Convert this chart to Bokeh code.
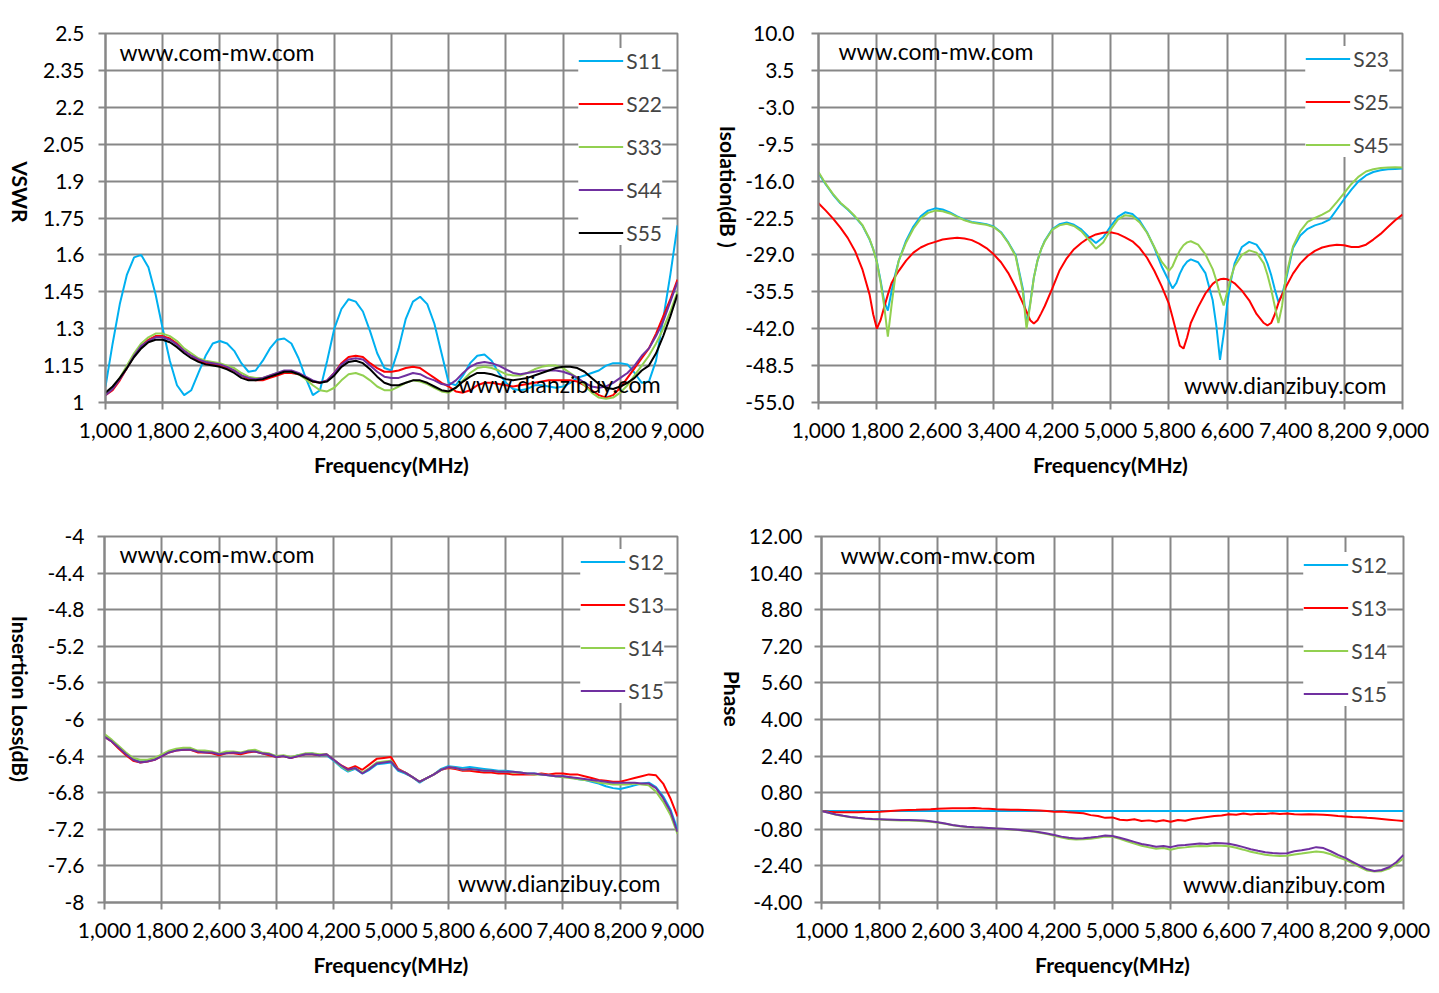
import math

from bokeh.core.properties import value
from bokeh.embed import file_html
from bokeh.layouts import column, row
from bokeh.models import FixedTicker, Label, Range1d
from bokeh.plotting import figure
from bokeh.resources import INLINE

# frequency grid (MHz) used by the VSWR, insertion loss and phase plots
FREQ = list(range(1000, 9001, 100))

X_TICKS = [1000, 1800, 2600, 3400, 4200, 5000, 5800, 6600, 7400, 8200, 9000]
X_LABELS = ["1,000", "1,800", "2,600", "3,400", "4,200", "5,000",
            "5,800", "6,600", "7,400", "8,200", "9,000"]

CYAN = "#00B0F0"
RED = "#FF0000"
GREEN = "#92D050"
PURPLE = "#7030A0"
BLACK = "#000000"
GRID = "#878787"

# ---- VSWR ----
VSWR_TICKS = [1, 1.15, 1.3, 1.45, 1.6, 1.75, 1.9, 2.05, 2.2, 2.35, 2.5]
VSWR_LABELS = ["1", "1.15", "1.3", "1.45", "1.6", "1.75", "1.9", "2.05", "2.2", "2.35", "2.5"]

S11 = [1.065, 1.24, 1.40, 1.52, 1.59, 1.60, 1.55, 1.44, 1.30, 1.17,
       1.07, 1.03, 1.05, 1.12, 1.19, 1.24, 1.25, 1.24, 1.21, 1.16,
       1.125, 1.13, 1.17, 1.22, 1.255, 1.26, 1.24, 1.18, 1.10, 1.03,
       1.05, 1.17, 1.30, 1.38, 1.42, 1.41, 1.37, 1.29, 1.20, 1.14,
       1.13, 1.22, 1.34, 1.41, 1.43, 1.40, 1.32, 1.20, 1.08, 1.07,
       1.11, 1.16, 1.19, 1.195, 1.17, 1.12, 1.08, 1.055, 1.05, 1.055,
       1.07, 1.07, 1.065, 1.06, 1.065, 1.08, 1.10, 1.11, 1.12, 1.13,
       1.15, 1.16, 1.16, 1.155, 1.12, 1.08, 1.085, 1.17, 1.34, 1.52,
       1.72]
S22 = [1.03, 1.05, 1.09, 1.14, 1.19, 1.23, 1.255, 1.27, 1.27, 1.26,
       1.24, 1.21, 1.19, 1.17, 1.16, 1.155, 1.15, 1.14, 1.13, 1.11,
       1.095, 1.09, 1.09, 1.10, 1.11, 1.12, 1.12, 1.115, 1.10, 1.085,
       1.08, 1.09, 1.12, 1.16, 1.185, 1.19, 1.185, 1.16, 1.14, 1.125,
       1.125, 1.13, 1.14, 1.145, 1.14, 1.12, 1.10, 1.08, 1.065, 1.045,
       1.04, 1.05, 1.07, 1.08, 1.08, 1.075, 1.07, 1.065, 1.07, 1.075,
       1.08, 1.085, 1.09, 1.09, 1.09, 1.09, 1.085, 1.07, 1.05, 1.03,
       1.02, 1.03, 1.06, 1.10, 1.14, 1.18, 1.22, 1.28, 1.35, 1.42,
       1.50]
S33 = [1.035, 1.06, 1.10, 1.15, 1.20, 1.24, 1.265, 1.28, 1.28, 1.27,
       1.25, 1.22, 1.20, 1.18, 1.17, 1.165, 1.16, 1.15, 1.14, 1.12,
       1.105, 1.10, 1.10, 1.11, 1.12, 1.125, 1.125, 1.115, 1.095, 1.07,
       1.05, 1.045, 1.06, 1.09, 1.115, 1.12, 1.11, 1.09, 1.065, 1.05,
       1.05, 1.065, 1.08, 1.09, 1.085, 1.075, 1.06, 1.045, 1.04, 1.06,
       1.09, 1.12, 1.14, 1.145, 1.14, 1.13, 1.115, 1.11, 1.11, 1.12,
       1.135, 1.145, 1.15, 1.15, 1.14, 1.12, 1.10, 1.07, 1.04, 1.02,
       1.015, 1.02, 1.04, 1.07, 1.11, 1.15, 1.19, 1.24, 1.30, 1.37,
       1.45]
S44 = [1.03, 1.055, 1.095, 1.14, 1.19, 1.23, 1.25, 1.265, 1.265, 1.255,
       1.235, 1.21, 1.19, 1.175, 1.165, 1.16, 1.155, 1.145, 1.13, 1.11,
       1.10, 1.095, 1.10, 1.11, 1.12, 1.13, 1.13, 1.12, 1.105, 1.09,
       1.08, 1.09, 1.12, 1.155, 1.175, 1.18, 1.175, 1.15, 1.125, 1.105,
       1.10, 1.10, 1.11, 1.12, 1.115, 1.10, 1.09, 1.075, 1.07, 1.09,
       1.12, 1.145, 1.16, 1.165, 1.16, 1.15, 1.135, 1.12, 1.115, 1.12,
       1.125, 1.13, 1.13, 1.13, 1.125, 1.115, 1.10, 1.08, 1.065, 1.06,
       1.065, 1.08, 1.10, 1.12, 1.15, 1.19, 1.22, 1.27, 1.33, 1.41,
       1.49]
S55 = [1.04, 1.065, 1.10, 1.14, 1.185, 1.22, 1.245, 1.255, 1.255, 1.245,
       1.225, 1.20, 1.18, 1.165, 1.155, 1.15, 1.145, 1.135, 1.12, 1.10,
       1.09, 1.09, 1.095, 1.105, 1.115, 1.125, 1.125, 1.115, 1.10, 1.085,
       1.08, 1.085, 1.11, 1.145, 1.165, 1.17, 1.16, 1.135, 1.105, 1.08,
       1.07, 1.07, 1.08, 1.09, 1.09, 1.08, 1.065, 1.05, 1.045, 1.06,
       1.085, 1.105, 1.12, 1.12, 1.115, 1.105, 1.095, 1.09, 1.095, 1.10,
       1.11, 1.12, 1.13, 1.14, 1.145, 1.145, 1.14, 1.125, 1.10, 1.075,
       1.06, 1.055, 1.065, 1.08, 1.10, 1.13, 1.15, 1.20, 1.27, 1.35,
       1.44]

# ---- Isolation ----
ISO_FREQ = [1000, 1100, 1200, 1300, 1400, 1500, 1600, 1700, 1750, 1800,
            1850, 1900, 1950, 2000, 2050, 2100, 2200, 2300, 2400, 2500,
            2600, 2700, 2800, 2900, 3000, 3100, 3200, 3300, 3400, 3500,
            3600, 3700, 3800, 3850, 3900, 3950, 4000, 4050, 4100, 4200,
            4300, 4400, 4500, 4600, 4700, 4800, 4900, 5000, 5100, 5200,
            5300, 5400, 5500, 5600, 5700, 5800, 5850, 5900, 5950, 6000,
            6050, 6100, 6200, 6300, 6400, 6450, 6500, 6550, 6600, 6650,
            6700, 6800, 6900, 7000, 7100, 7150, 7200, 7250, 7300, 7350,
            7400, 7500, 7600, 7700, 7800, 7900, 8000, 8100, 8200, 8300,
            8400, 8500, 8600, 8700, 8800, 8900, 9000]
ISO_TICKS = [10.0, 3.5, -3.0, -9.5, -16.0, -22.5, -29.0, -35.5, -42.0, -48.5, -55.0]
ISO_LABELS = ["10.0", "3.5", "-3.0", "-9.5", "-16.0", "-22.5", "-29.0", "-35.5", "-42.0", "-48.5", "-55.0"]

S23 = [-14.6, -16.6, -18.4, -19.9, -21.0, -22.3, -23.8, -26.3, -28.0, -30.2,
       -33.5, -37.2, -38.8, -35.5, -32.5, -30.0, -26.5, -24.0, -22.2, -21.2,
       -20.8, -21.0, -21.5, -22.2, -22.8, -23.2, -23.4, -23.6, -24.0, -25.0,
       -26.8, -29.0, -35.0, -41.3, -37.5, -33.0, -30.0, -28.0, -26.5, -24.5,
       -23.6, -23.3, -23.7, -24.5, -25.8, -26.9, -25.9, -24.0, -22.3, -21.5,
       -21.8, -23.0, -25.0, -27.7, -31.0, -33.6, -34.9, -34.0, -32.3, -31.0,
       -30.2, -29.8, -30.3, -32.2, -37.0, -41.5, -47.5, -43.0, -37.5, -33.5,
       -30.5, -27.6, -26.7, -27.2, -29.0, -30.5, -32.5, -35.0, -37.3, -36.0,
       -33.6, -27.8, -25.6, -24.4, -23.8, -23.4, -22.8, -21.0, -19.2, -17.5,
       -16.0, -15.0, -14.4, -14.1, -13.9, -13.85, -13.8]
S25 = [-19.9, -21.2, -22.6, -24.2, -26.0, -28.3, -31.5, -36.0, -39.5, -42.0,
       -40.5, -38.2, -36.0, -34.0, -32.8, -31.8, -30.0, -28.6, -27.7, -27.1,
       -26.7, -26.3, -26.1, -26.0, -26.1, -26.4, -27.0, -27.8, -28.9, -30.3,
       -32.2, -34.7, -37.5, -39.0, -40.5, -41.1, -40.5, -39.3, -38.0, -35.0,
       -31.8, -29.6, -28.0, -26.9, -26.0, -25.4, -25.1, -25.0, -25.3, -25.9,
       -26.6, -27.8, -29.5, -31.8, -34.5, -37.6, -40.0, -42.5, -45.0, -45.5,
       -43.5, -41.0, -38.2, -35.8, -34.1, -33.6, -33.3, -33.2, -33.3, -33.6,
       -34.0, -35.3, -37.0, -39.4, -41.0, -41.4, -41.0, -39.5, -37.5, -36.0,
       -34.7, -32.3, -30.5, -29.2, -28.3, -27.7, -27.4, -27.2, -27.3, -27.6,
       -27.6, -27.2, -26.3, -25.3, -24.1, -22.9, -21.9]
S45 = [-14.4, -16.5, -18.3, -19.8, -20.9, -22.2, -23.7, -26.2, -28.0, -30.3,
       -33.8, -38.0, -43.4, -38.0, -33.0, -30.0, -26.8, -24.4, -22.6, -21.6,
       -21.2, -21.3, -21.7, -22.3, -22.9, -23.3, -23.5, -23.7, -24.1, -25.1,
       -26.9, -29.2, -35.5, -42.0, -37.8, -33.0, -30.0, -28.0, -26.6, -24.6,
       -23.8, -23.5, -23.9, -24.8, -26.3, -27.9, -26.8, -24.6, -22.8, -22.0,
       -22.2, -23.3, -25.1, -27.6, -30.2, -31.8, -31.0, -29.5, -28.2, -27.3,
       -26.8, -26.6, -27.2, -28.9, -31.5, -33.5, -36.0, -37.9, -35.5, -33.0,
       -31.0, -29.0, -28.2, -28.6, -30.5, -32.5, -35.0, -38.0, -41.0, -38.0,
       -33.0, -27.5, -24.8, -23.2, -22.5, -21.9, -21.2, -19.7, -18.1, -16.5,
       -15.2, -14.3, -13.9, -13.7, -13.6, -13.55, -13.6]

# ---- Insertion loss ----
IL_TICKS = [-8, -7.6, -7.2, -6.8, -6.4, -6, -5.6, -5.2, -4.8, -4.4, -4]
IL_LABELS = ["-8", "-7.6", "-7.2", "-6.8", "-6.4", "-6", "-5.6", "-5.2", "-4.8", "-4.4", "-4"]

IL_S12 = [-6.18, -6.23, -6.31, -6.38, -6.44, -6.46, -6.45, -6.43, -6.39, -6.35,
          -6.33, -6.33, -6.32, -6.35, -6.35, -6.36, -6.38, -6.36, -6.36, -6.37,
          -6.35, -6.34, -6.37, -6.38, -6.40, -6.40, -6.42, -6.39, -6.38, -6.37,
          -6.39, -6.39, -6.45, -6.52, -6.57, -6.54, -6.59, -6.55, -6.49, -6.48,
          -6.47, -6.56, -6.59, -6.63, -6.69, -6.64, -6.60, -6.54, -6.51, -6.52,
          -6.53, -6.52, -6.53, -6.54, -6.55, -6.56, -6.56, -6.57, -6.58, -6.59,
          -6.59, -6.60, -6.61, -6.62, -6.62, -6.63, -6.65, -6.66, -6.68, -6.70,
          -6.73, -6.75, -6.76, -6.74, -6.72, -6.70, -6.69, -6.74, -6.84, -6.98,
          -7.20]
IL_S13 = [-6.19, -6.24, -6.32, -6.39, -6.45, -6.47, -6.46, -6.44, -6.40, -6.36,
          -6.34, -6.33, -6.33, -6.36, -6.36, -6.37, -6.39, -6.37, -6.37, -6.38,
          -6.36, -6.35, -6.37, -6.39, -6.41, -6.40, -6.42, -6.40, -6.38, -6.38,
          -6.39, -6.38, -6.44, -6.50, -6.54, -6.51, -6.55, -6.49, -6.43, -6.42,
          -6.41, -6.54, -6.58, -6.63, -6.68, -6.64, -6.60, -6.55, -6.53, -6.54,
          -6.56, -6.56, -6.57, -6.58, -6.58, -6.59, -6.59, -6.60, -6.60, -6.60,
          -6.60, -6.59, -6.60, -6.59, -6.59, -6.60, -6.60, -6.62, -6.64, -6.66,
          -6.67, -6.68, -6.68, -6.66, -6.64, -6.62, -6.60, -6.61, -6.70, -6.86,
          -7.06]
IL_S14 = [-6.16, -6.22, -6.29, -6.36, -6.42, -6.44, -6.44, -6.42, -6.38, -6.34,
          -6.32, -6.31, -6.31, -6.34, -6.34, -6.35, -6.37, -6.35, -6.35, -6.36,
          -6.34, -6.33, -6.36, -6.37, -6.40, -6.39, -6.41, -6.39, -6.37, -6.37,
          -6.38, -6.38, -6.44, -6.51, -6.56, -6.53, -6.58, -6.53, -6.47, -6.46,
          -6.45, -6.55, -6.58, -6.63, -6.68, -6.64, -6.60, -6.55, -6.52, -6.53,
          -6.55, -6.54, -6.55, -6.56, -6.56, -6.57, -6.57, -6.58, -6.58, -6.59,
          -6.60, -6.60, -6.61, -6.62, -6.63, -6.64, -6.65, -6.66, -6.67, -6.69,
          -6.70, -6.71, -6.71, -6.71, -6.70, -6.71, -6.72, -6.79, -6.90, -7.04,
          -7.25]
IL_S15 = [-6.19, -6.24, -6.31, -6.38, -6.44, -6.47, -6.46, -6.44, -6.40, -6.36,
          -6.34, -6.33, -6.33, -6.35, -6.36, -6.36, -6.38, -6.37, -6.36, -6.37,
          -6.35, -6.35, -6.37, -6.38, -6.41, -6.40, -6.42, -6.40, -6.38, -6.38,
          -6.39, -6.38, -6.44, -6.50, -6.55, -6.53, -6.59, -6.54, -6.48, -6.47,
          -6.46, -6.55, -6.58, -6.63, -6.68, -6.64, -6.60, -6.55, -6.52, -6.53,
          -6.55, -6.54, -6.55, -6.56, -6.56, -6.57, -6.57, -6.57, -6.58, -6.59,
          -6.59, -6.60, -6.61, -6.62, -6.62, -6.63, -6.64, -6.65, -6.66, -6.67,
          -6.68, -6.69, -6.69, -6.69, -6.69, -6.70, -6.70, -6.75, -6.86, -7.00,
          -7.23]

# ---- Phase ----
PH_TICKS = [-4.0, -2.4, -0.8, 0.8, 2.4, 4.0, 5.6, 7.2, 8.8, 10.4, 12.0]
PH_LABELS = ["-4.00", "-2.40", "-0.80", "0.80", "2.40", "4.00", "5.60", "7.20", "8.80", "10.40", "12.00"]

PH_S12 = [0.00, 0.00, 0.00, 0.00, 0.00, 0.00, 0.00, 0.00, 0.00, 0.00,
          0.00, 0.00, 0.00, 0.00, 0.00, 0.00, 0.00, 0.00, 0.00, 0.00,
          0.00, 0.00, 0.00, 0.00, 0.00, 0.00, 0.00, 0.00, 0.00, 0.00,
          0.00, 0.00, 0.00, 0.00, 0.00, 0.00, 0.00, 0.00, 0.00, 0.00,
          0.00, 0.00, 0.00, 0.00, 0.00, 0.00, 0.00, 0.00, 0.00, 0.00,
          0.00, 0.00, 0.00, 0.00, 0.00, 0.00, 0.00, 0.00, 0.00, 0.00,
          0.00, 0.00, 0.00, 0.00, 0.00, 0.00, 0.00, 0.00, 0.00, 0.00,
          0.00, 0.00, 0.00, 0.00, 0.00, 0.00, 0.00, 0.00, 0.00, 0.00,
          0.00]
PH_S13 = [0.00, -0.03, -0.05, -0.06, -0.06, -0.05, -0.04, -0.04, -0.03, -0.01,
          0.01, 0.03, 0.04, 0.05, 0.07, 0.08, 0.10, 0.11, 0.12, 0.12,
          0.12, 0.13, 0.11, 0.10, 0.08, 0.07, 0.06, 0.05, 0.04, 0.03,
          0.02, 0.00, -0.03, -0.02, -0.06, -0.08, -0.10, -0.18, -0.22, -0.30,
          -0.28, -0.38, -0.40, -0.36, -0.44, -0.41, -0.46, -0.40, -0.47, -0.39,
          -0.43, -0.35, -0.31, -0.26, -0.22, -0.20, -0.14, -0.16, -0.11, -0.15,
          -0.12, -0.13, -0.10, -0.13, -0.11, -0.14, -0.15, -0.14, -0.15, -0.16,
          -0.19, -0.22, -0.24, -0.26, -0.27, -0.30, -0.32, -0.35, -0.38, -0.41,
          -0.44]
PH_S14 = [0.00, -0.08, -0.16, -0.22, -0.27, -0.31, -0.34, -0.36, -0.37, -0.39,
          -0.40, -0.41, -0.42, -0.43, -0.45, -0.47, -0.51, -0.56, -0.62, -0.67,
          -0.70, -0.72, -0.73, -0.75, -0.77, -0.79, -0.81, -0.83, -0.86, -0.90,
          -0.95, -1.01, -1.08, -1.16, -1.22, -1.25, -1.24, -1.21, -1.17, -1.12,
          -1.13, -1.22, -1.32, -1.42, -1.52, -1.59, -1.65, -1.62, -1.69, -1.62,
          -1.59, -1.55, -1.53, -1.54, -1.51, -1.52, -1.54, -1.61, -1.69, -1.78,
          -1.85, -1.91, -1.95, -1.97, -1.96, -1.90, -1.86, -1.81, -1.77, -1.80,
          -1.89, -2.02, -2.13, -2.29, -2.45, -2.60, -2.65, -2.63, -2.52, -2.32,
          -2.07]
PH_S15 = [0.00, -0.08, -0.15, -0.21, -0.26, -0.30, -0.33, -0.35, -0.36, -0.37,
          -0.38, -0.39, -0.39, -0.40, -0.42, -0.45, -0.49, -0.55, -0.61, -0.66,
          -0.69, -0.71, -0.72, -0.74, -0.76, -0.78, -0.80, -0.82, -0.85, -0.88,
          -0.93, -0.98, -1.05, -1.12, -1.17, -1.20, -1.19, -1.16, -1.12, -1.07,
          -1.09, -1.17, -1.26, -1.35, -1.44, -1.50, -1.56, -1.53, -1.58, -1.51,
          -1.49, -1.45, -1.42, -1.44, -1.40, -1.41, -1.43, -1.50, -1.58, -1.67,
          -1.74, -1.80, -1.84, -1.86, -1.85, -1.76, -1.72, -1.66, -1.58, -1.62,
          -1.76, -1.92, -2.05, -2.22, -2.39, -2.55, -2.62, -2.58, -2.46, -2.24,
          -1.92]

FONT = "Lato"


def title_strip(width, height, text, cx, cy_from_top):
    # narrow figure that only holds the vertical y-axis title (reads top to bottom)
    t = figure(width=width, height=height, output_backend="svg", toolbar_location=None,
               tools="", x_range=Range1d(0, width), y_range=Range1d(0, height),
               x_axis_type=None, y_axis_type=None, min_border=0)
    t.outline_line_color = None
    t.grid.visible = False
    t.text(x=[cx], y=[height - cy_from_top], text=[text], angle=-math.pi / 2,
           text_align="center", text_baseline="middle", text_font=value(FONT),
           text_font_size="21px", text_font_style="bold", text_color="black")
    return t


def make_panel(width, height, borders, y_lo, y_hi, y_ticks, y_labels, y_label_standoff):
    left, right, top, bottom = borders
    p = figure(width=width, height=height, output_backend="svg",
               toolbar_location=None, tools="",
               x_range=Range1d(1000, 9000), y_range=Range1d(y_lo, y_hi),
               min_border_left=left, min_border_right=right,
               min_border_top=top, min_border_bottom=bottom)
    p.background_fill_color = "white"
    p.border_fill_color = "white"
    p.outline_line_color = GRID
    p.outline_line_width = 2

    p.xaxis.ticker = FixedTicker(ticks=X_TICKS)
    p.xaxis.major_label_overrides = dict(zip(X_TICKS, X_LABELS))
    p.yaxis.ticker = FixedTicker(ticks=y_ticks)
    p.yaxis.major_label_overrides = dict(zip(y_ticks, y_labels))

    p.grid.grid_line_color = GRID
    p.grid.grid_line_width = 2

    for ax in (p.xaxis, p.yaxis):
        ax.axis_line_color = GRID
        ax.axis_line_width = 2
        ax.major_tick_line_color = GRID
        ax.major_tick_line_width = 2
        ax.major_tick_in = 0
        ax.major_tick_out = 7
        ax.minor_tick_line_color = None
        ax.major_label_text_font = FONT
        ax.major_label_text_font_size = "21px"
        ax.major_label_text_color = "black"

    p.xaxis.axis_label = "Frequency(MHz)"
    p.xaxis.axis_label_text_font = FONT
    p.xaxis.axis_label_text_font_size = "21px"
    p.xaxis.axis_label_text_font_style = "bold"
    p.xaxis.axis_label_text_color = "black"
    p.xaxis.major_label_standoff = 13
    p.xaxis.axis_label_standoff = 11
    p.yaxis.major_label_standoff = y_label_standoff
    return p


def style_legend(p, margin):
    lg = p.legend[0]
    lg.location = "top_right"
    lg.margin = margin
    lg.padding = 10
    lg.spacing = 18
    lg.glyph_width = 45
    lg.glyph_height = 23
    lg.label_height = 23
    lg.label_standoff = 3
    lg.label_text_font = FONT
    lg.label_text_font_size = "21px"
    lg.background_fill_color = "white"
    lg.background_fill_alpha = 1.0
    lg.border_line_color = None


def watermark(p, x, y, text, align):
    p.add_layout(Label(x=x, y=y, text=text, text_font=FONT, text_font_size="23px",
                       text_align=align, text_baseline="middle", text_color="black"))


# VSWR panel
t1 = title_strip(40, 508, "VSWR", 20, 218)
p1 = make_panel(670, 508, (64, 33, 33, 105), 1, 2.5, VSWR_TICKS, VSWR_LABELS, 14)
for ys, col, name in ((S11, CYAN, "S11"), (S22, RED, "S22"), (S33, GREEN, "S33"),
                      (S44, PURPLE, "S44"), (S55, BLACK, "S55")):
    p1.line(FREQ, ys, line_color=col, line_width=2, legend_label=name)
style_legend(p1, 15)
watermark(p1, 1195, 2.423, "www.com-mw.com", "left")
watermark(p1, 8763, 1.077, "www.dianzibuy.com", "right")

# Isolation panel
t2 = title_strip(32, 508, "Isolation(dB )", 18, 211)
p2 = make_panel(689, 508, (76, 29, 31, 106), -55, 10, ISO_TICKS, ISO_LABELS, 17)
for ys, col, name in ((S23, CYAN, "S23"), (S25, RED, "S25"), (S45, GREEN, "S45")):
    p2.line(ISO_FREQ, ys, line_color=col, line_width=2, legend_label=name)
style_legend(p2, 13)
watermark(p2, 1274, 6.85, "www.com-mw.com", "left")
watermark(p2, 8781, -51.85, "www.dianzibuy.com", "right")

# Insertion loss panel
t3 = title_strip(40, 478, "Insertion Loss(dB)", 20, 212)
p3 = make_panel(670, 478, (64, 33, 28, 84), -8, -4, IL_TICKS, IL_LABELS, 13)
for ys, col, name in ((IL_S12, CYAN, "S12"), (IL_S13, RED, "S13"),
                      (IL_S14, GREEN, "S14"), (IL_S15, PURPLE, "S15")):
    p3.line(FREQ, ys, line_color=col, line_width=2, legend_label=name)
style_legend(p3, 13)
watermark(p3, 1209, -4.186, "www.com-mw.com", "left")
watermark(p3, 8763, -7.79, "www.dianzibuy.com", "right")

# Phase panel
t4 = title_strip(35, 478, "Phase", 22, 212)
p4 = make_panel(686, 478, (75, 28, 28, 84), -4, 12, PH_TICKS, PH_LABELS, 12)
for ys, col, name in ((PH_S12, CYAN, "S12"), (PH_S13, RED, "S13"),
                      (PH_S14, GREEN, "S14"), (PH_S15, PURPLE, "S15")):
    p4.line(FREQ, ys, line_color=col, line_width=2, legend_label=name)
style_legend(p4, 16)
watermark(p4, 1261, 11.21, "www.com-mw.com", "left")
watermark(p4, 8753, -3.17, "www.dianzibuy.com", "right")

layout = column(row(t1, p1, t2, p2), row(t3, p3, t4, p4))
open("out.html", "w").write(file_html(layout, INLINE))
